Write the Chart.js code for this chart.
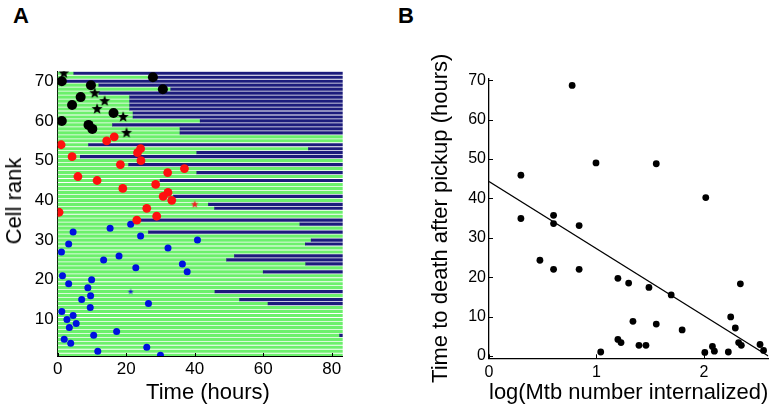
<!DOCTYPE html>
<html>
<head>
<meta charset="utf-8">
<script src="https://cdn.jsdelivr.net/npm/chart.js@4.4.1/dist/chart.umd.min.js"></script>
<style>
  body { margin: 0; background: #fff; width: 777px; height: 409px; overflow: hidden; position: relative;
         font-family: "Liberation Sans", Arial, sans-serif; }
  canvas { position: absolute; top: 0; }
  #chartA { left: 0; }
  #chartB { left: 390px; }
  .panel { position: absolute; font-weight: bold; font-size: 22px; line-height: 22px; }
  .ttl { position: absolute; font-size: 22px; line-height: 22px; white-space: nowrap; transform: translate(-50%, -50%); }
</style>
</head>
<body>
<div class="panel" style="left:13px;top:5px">A</div>
<div class="panel" style="left:398px;top:5px">B</div>
<canvas id="chartA" width="380" height="409"></canvas>
<canvas id="chartB" width="387" height="409"></canvas>
<div class="ttl" style="left:14px;top:201px;transform:translate(-50%,-50%) rotate(-90deg)">Cell rank</div>
<div class="ttl" style="left:208px;top:392px">Time (hours)</div>

<script>
// Panel A - one track per cell, green until the switch time, blue after it
const cellRanks = [1, 2, 3, 4, 5, 6, 7, 8, 9, 10, 11, 12, 13, 14, 15, 16, 17, 18, 19, 20,
  21, 22, 23, 24, 25, 26, 27, 28, 29, 30, 31, 32, 33, 34, 35, 36, 37, 38, 39, 40,
  41, 42, 43, 44, 45, 46, 47, 48, 49, 50, 51, 52, 53, 54, 55, 56, 57, 58, 59, 60,
  61, 62, 63, 64, 65, 66, 67, 68, 69, 70, 71, 72];
// null = stays green for the whole movie
const blueStart = [null, null, null, null, null, 82.3, null, null, null, null,
  null, null, null, 61.4, 53.1, null, 45.9, null, null, null,
  null, 60.0, null, 72.4, 49.3, 51.6, null, null, 72.3, 74.0,
  null, 26.5, null, 70.7, 24.2, null, null, 45.8, 44.0, null,
  33.8, null, null, null, 29.9, null, 40.6, null, 20.7, null,
  6.6, 40.6, 73.2, 9.0, null, null, 35.7, 35.7, 16.0, 41.6,
  22.0, 22.0, 21.0, 21.0, 21.0, 21.0, 12.0, 33.0, 12.0, 2.5,
  27.0, 4.7];
const movieEnd = 83.2;

const blackDotT = [1.2, 9.7, 27.8, 30.7, 6.7, 4.2, 16.3, 1.2, 9.0, 10.1];
const blackDotRank = [70, 69, 71, 68, 66, 64, 62, 60, 59, 58];
const blackStarT = [1.8, 10.8, 13.7, 11.5, 19.1, 20.1];
const blackStarRank = [72, 67, 65, 63, 61, 57];
const redDotT = [1.0, 14.3, 16.5, 24.2, 23.3, 4.2, 24.3, 18.3, 37.0, 32.1, 5.9, 11.5, 28.6, 19.0, 32.2, 30.8, 33.3, 26.0, 0.4, 28.9, 23.1];
const redDotRank = [54, 55, 56, 53, 52, 51, 50, 49, 48, 47, 46, 45, 44, 43, 42, 41, 40, 38, 37, 36, 35];
const redStarT = [40.0];
const redStarRank = [39];
const blueDotT = [21.3, 15.3, 4.5, 24.2, 40.8, 3.2, 32.2, 1.1, 17.9, 13.4, 36.4, 22.8, 37.8, 1.4, 9.9, 3.2, 8.8,
  9.6, 7.0, 26.5, 9.5, 1.2, 4.5, 2.7, 5.4, 3.4, 17.2, 10.5, 1.9, 3.8, 26.0, 11.7, 30.0];
const blueDotRank = [34, 33, 32, 31, 30, 29, 28, 27, 26, 25, 24, 23, 22, 21, 20, 19, 18,
  16, 15, 14, 13, 12, 11, 10, 9, 8, 7, 6, 5, 4, 3, 2, 1];
const blueStarT = [21.3];
const blueStarRank = [17];

// Panel B - death time vs internalized bacteria
const logMtb = [0.774, 0.996, 1.557, 0.297, 2.018, 0.297, 0.601, 0.601, 0.839, 0.474, 0.601, 0.839,
  1.200, 1.300, 1.489, 1.696, 2.340, 2.250, 2.293, 1.340, 1.557, 1.798, 1.200, 1.229, 1.396, 1.461,
  1.040, 2.009, 2.080, 2.098, 2.228, 2.324, 2.349, 2.523, 2.556];
const deathTime = [68.7, 49.0, 48.8, 45.9, 40.2, 34.9, 35.7, 33.6, 33.1, 24.3, 22.0, 22.0,
  19.7, 18.5, 17.4, 15.5, 18.3, 9.9, 7.1, 8.8, 8.1, 6.6, 4.2, 3.4, 2.7, 2.7,
  1.0, 0.9, 2.4, 1.2, 1.0, 3.4, 2.7, 2.9, 1.4];
const fitX = [0, 2.6];
const fitY = [44.3, 0];

const FONT = '"Liberation Sans", Arial, sans-serif';
const GREEN = '#6cf06c';
const NAVY = '#1c1c7c';

function pts(xs, ys) {
  return xs.map((x, i) => ({ x: x, y: ys[i] }));
}

// filled five point star used as marker
function makeStar(r, color) {
  const c = document.createElement('canvas');
  const s = Math.ceil(r * 2 + 2);
  c.width = s; c.height = s;
  const g = c.getContext('2d');
  g.fillStyle = color;
  g.beginPath();
  for (let k = 0; k < 10; k++) {
    const rad = k % 2 === 0 ? r : r * 0.42;
    const a = -Math.PI / 2 + k * Math.PI / 5;
    const px = s / 2 + rad * Math.cos(a), py = s / 2 + rad * Math.sin(a);
    if (k === 0) g.moveTo(px, py); else g.lineTo(px, py);
  }
  g.closePath();
  g.fill();
  return c;
}

// small inward tick marks like the original axes
const inwardTicks = {
  id: 'inwardTicks',
  afterDatasetsDraw(chart, args, opts) {
    const { ctx, chartArea, scales } = chart;
    const len = opts.len || 3;
    ctx.save();
    ctx.strokeStyle = '#000';
    ctx.lineWidth = 1;
    ctx.beginPath();
    scales.x.ticks.forEach(t => {
      const px = Math.round(scales.x.getPixelForValue(t.value)) + 0.5;
      ctx.moveTo(px, chartArea.bottom);
      ctx.lineTo(px, chartArea.bottom - len);
    });
    if (opts.yToo) {
      scales.y.ticks.forEach(t => {
        const py = Math.round(scales.y.getPixelForValue(t.value)) + 0.5;
        ctx.moveTo(chartArea.left, py);
        ctx.lineTo(chartArea.left + len, py);
      });
    }
    ctx.stroke();
    ctx.restore();
  }
};

const greenBars = cellRanks.map((r, i) => ({ y: r, x: [0, blueStart[i] === null ? movieEnd : blueStart[i]] }));
const blueBars = [];
cellRanks.forEach((r, i) => {
  if (blueStart[i] !== null) blueBars.push({ y: r, x: [blueStart[i], movieEnd] });
});

const tickFontA = { family: FONT, size: 17 };

new Chart(document.getElementById('chartA'), {
  type: 'scatter',
  data: {
    datasets: [
      { type: 'scatter', data: pts(blackDotT, blackDotRank), pointRadius: 5, pointBorderWidth: 0, backgroundColor: '#000', order: 1 },
      { type: 'scatter', data: pts(blackStarT, blackStarRank), pointStyle: makeStar(5.8, '#000'), order: 1 },
      { type: 'scatter', data: pts(redDotT, redDotRank), pointRadius: 4.4, pointBorderWidth: 0, backgroundColor: '#ff1010', order: 1 },
      { type: 'scatter', data: pts(redStarT, redStarRank), pointStyle: makeStar(4, '#ee2020'), order: 1 },
      { type: 'scatter', data: pts(blueDotT, blueDotRank), pointRadius: 3.5, pointBorderWidth: 0, backgroundColor: '#0010e0', order: 1 },
      { type: 'scatter', data: pts(blueStarT, blueStarRank), pointStyle: makeStar(3, '#1020d0'), order: 1 },
      { type: 'bar', indexAxis: 'y', data: blueBars, backgroundColor: NAVY, barThickness: 2.5, grouped: false, borderWidth: 0, order: 10 },
      { type: 'bar', indexAxis: 'y', data: greenBars, backgroundColor: GREEN, barThickness: 2.5, grouped: false, borderWidth: 0, order: 11 }
    ]
  },
  options: {
    responsive: false,
    animation: false,
    devicePixelRatio: 1,
    layout: { padding: { left: 0, right: 37.3, top: 71.3, bottom: 0 } },
    plugins: { legend: { display: false }, tooltip: { enabled: false }, inwardTicks: { len: 3, yToo: false } },
    scales: {
      x: {
        type: 'linear', min: 0, max: movieEnd, offset: false, beginAtZero: false,
        grid: { display: false, drawTicks: false, offset: false },
        border: { color: '#000', width: 1 },
        ticks: { stepSize: 20, includeBounds: false, color: '#000', font: tickFontA, padding: 3.5, maxRotation: 0 },
        afterFit: s => { s.height = 53; }
      },
      y: {
        type: 'linear', min: 0.8, max: 72.5, offset: false,
        grid: { display: false, drawTicks: false, offset: false },
        border: { color: '#000', width: 1 },
        ticks: { stepSize: 10, includeBounds: false, color: '#000', font: tickFontA, padding: 4 },
        afterFit: s => { s.width = 57.7; }
      }
    }
  },
  plugins: [inwardTicks]
});

const tickFontB = { family: FONT, size: 16 };

new Chart(document.getElementById('chartB'), {
  type: 'scatter',
  data: {
    datasets: [
      { data: pts(logMtb, deathTime), pointRadius: 3.4, pointBorderWidth: 0, backgroundColor: '#000' },
      { data: pts(fitX, fitY), showLine: true, pointRadius: 0, borderColor: '#000', borderWidth: 1.3 }
    ]
  },
  options: {
    responsive: false,
    animation: false,
    devicePixelRatio: 1,
    layout: { padding: { left: 0, right: 8.7, top: 78.3, bottom: 0 } },
    plugins: { legend: { display: false }, tooltip: { enabled: false }, inwardTicks: { len: 4, yToo: true } },
    scales: {
      x: {
        type: 'linear', min: 0, max: 2.6,
        grid: { display: false, drawTicks: false },
        border: { color: '#000', width: 1.3 },
        ticks: { stepSize: 1, includeBounds: false, color: '#000', font: tickFontB, padding: 5, maxRotation: 0 },
        title: { display: true, text: 'log(Mtb number internalized)', color: '#000',
                 font: { family: FONT, size: 22 }, padding: { top: 0, bottom: 3.3 } },
        afterFit: s => { s.height = 50.7; }
      },
      y: {
        type: 'linear', min: -0.6, max: 70.5,
        grid: { display: false, drawTicks: false },
        border: { color: '#000', width: 1.3 },
        ticks: { stepSize: 10, includeBounds: false, color: '#000', font: tickFontB, padding: 3 },
        title: { display: true, text: 'Time to death after pickup (hours)', color: '#000',
                 font: { family: FONT, size: 22 }, padding: { top: 37.8, bottom: 0 } },
        afterFit: s => { s.width = 99; }
      }
    }
  },
  plugins: [inwardTicks]
});
</script>
</body>
</html>
